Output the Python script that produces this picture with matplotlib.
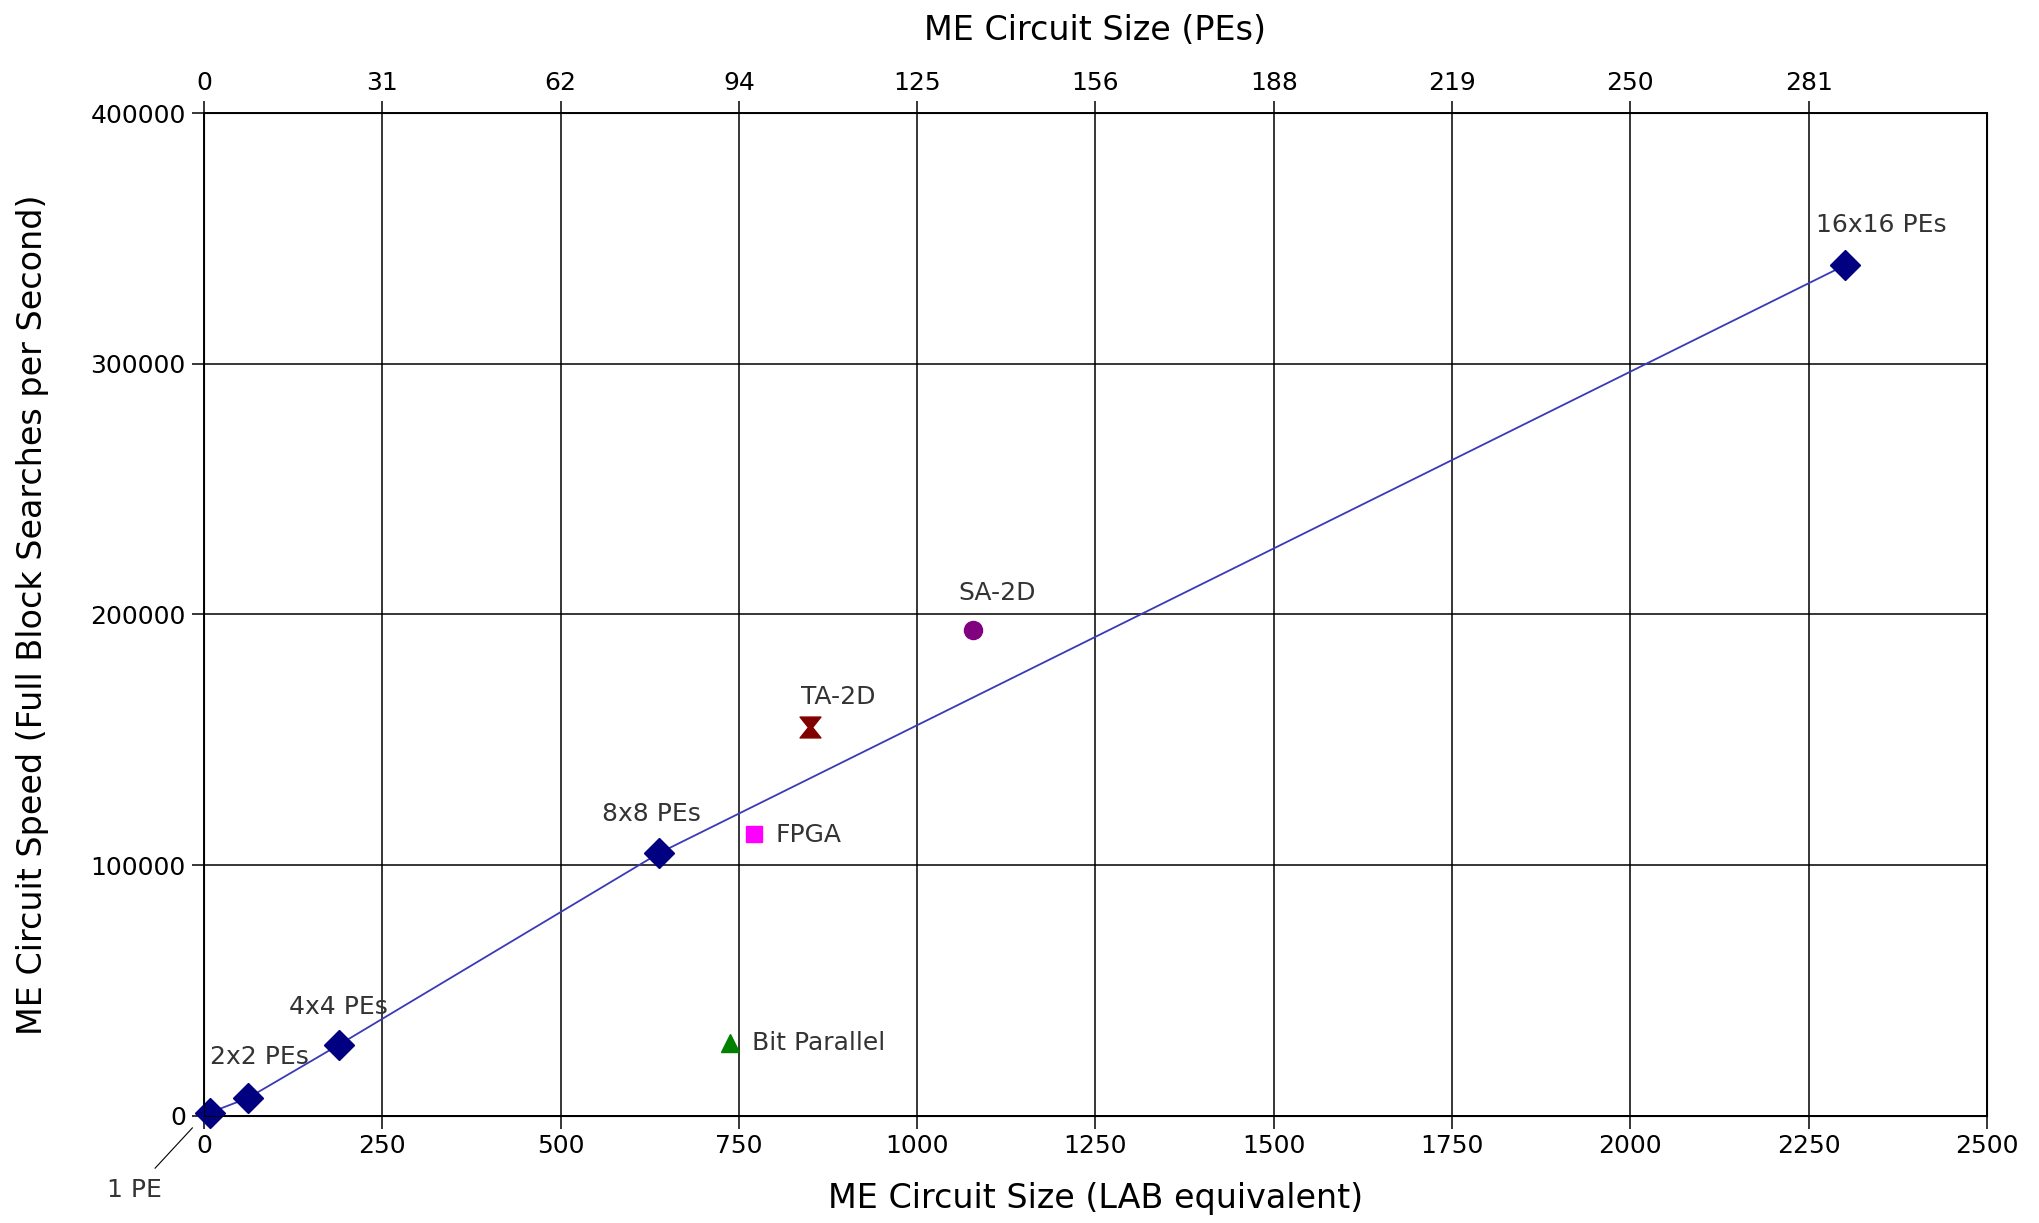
import matplotlib.pyplot as plt
from matplotlib.path import Path

# ME circuit sizes (LAB equivalent) and speeds (full block searches / s)
pe_names = ['1 PE', '2x2 PEs', '4x4 PEs', '8x8 PEs', '16x16 PEs']
pe_size = [8, 62, 190, 638, 2301]
pe_speed = [1300, 7200, 28500, 104800, 339300]

other_names = ['SA-2D', 'TA-2D', 'FPGA', 'Bit Parallel']
other_size = [1078, 850, 771, 737]
other_speed = [194000, 155100, 112600, 29300]

x_ticks = [0, 250, 500, 750, 1000, 1250, 1500, 1750, 2000, 2250, 2500]
y_ticks = [0, 100000, 200000, 300000, 400000]
top_ticks = [0, 250, 500, 750, 1000, 1250, 1500, 1750, 2000, 2250]
top_labels = ['0', '31', '62', '94', '125', '156', '188', '219', '250', '281']

plt.rcParams['font.family'] = ['DejaVu Sans']

fig = plt.figure(figsize=(20.39, 12.23), dpi=100)
ax = fig.add_subplot(111)
fig.subplots_adjust(left=0.100, right=0.9745, bottom=0.0875, top=0.9076)

ax.set_xlim(0, 2500)
ax.set_ylim(0, 400000)
ax.set_xticks(x_ticks)
ax.set_yticks(y_ticks)
ax.grid(True, color='black', linewidth=1.1)
ax.set_axisbelow(True)
for s in ax.spines.values():
    s.set_linewidth(1.4)
    s.set_color('black')
ax.tick_params(axis='both', direction='out', length=9, width=1.1, labelsize=18, pad=4)

ax.plot(pe_size, pe_speed, color='#3a3ab8', linewidth=1.3, zorder=3)
ax.plot(pe_size, pe_speed, linestyle='none', marker='D', markersize=15,
        color='#000080', zorder=4, clip_on=False)

# hourglass marker for TA-2D
hour = Path([(-1, 1), (1, 1), (0.2, 0), (1, -1), (-1, -1), (-0.2, 0), (-1, 1)],
            [Path.MOVETO] + [Path.LINETO] * 5 + [Path.CLOSEPOLY])
ax.plot(other_size[0], other_speed[0], 'o', markersize=13, color='#800080', zorder=4)
ax.plot(other_size[1], other_speed[1], marker=hour, linestyle='none', markersize=15,
        color='#800000', zorder=4)
ax.plot(other_size[2], other_speed[2], 's', markersize=12, color='#ff00ff', zorder=4)
ax.plot(other_size[3], other_speed[3], '^', markersize=13, color='#008000', zorder=4)

tc = '#333333'
fs = 18
ax.text(2352, 355400, pe_names[4], ha='center', va='center', fontsize=fs, color=tc)
ax.text(627, 120400, pe_names[3], ha='center', va='center', fontsize=fs, color=tc)
ax.text(188, 43600, pe_names[2], ha='center', va='center', fontsize=fs, color=tc)
ax.text(78, 23400, pe_names[1], ha='center', va='center', fontsize=fs, color=tc)
ax.text(1112, 208600, other_names[0], ha='center', va='center', fontsize=fs, color=tc)
ax.text(890, 167000, other_names[1], ha='center', va='center', fontsize=fs, color=tc)
ax.text(802, 112100, other_names[2], ha='left', va='center', fontsize=fs, color=tc)
ax.text(768, 29000, other_names[3], ha='left', va='center', fontsize=fs, color=tc)
ax.annotate(pe_names[0], xy=(-16, -4700), xytext=(-97, -29600), ha='center', va='center',
            fontsize=fs, color=tc, annotation_clip=False,
            arrowprops=dict(arrowstyle='-', color='black', linewidth=0.8,
                            shrinkA=7, shrinkB=0))

ax.set_xlabel('ME Circuit Size (LAB equivalent)', fontsize=24, labelpad=17)
ax.set_ylabel('ME Circuit Speed (Full Block Searches per Second)', fontsize=24, labelpad=30)

top = ax.twiny()
top.set_xlim(ax.get_xlim())
top.set_xticks(top_ticks)
top.set_xticklabels(top_labels)
top.tick_params(axis='x', direction='out', length=9, width=1.1, labelsize=18, pad=4)
top.set_xlabel('ME Circuit Size (PEs)', fontsize=24, labelpad=22)

fig.savefig('out.png', dpi=100)
